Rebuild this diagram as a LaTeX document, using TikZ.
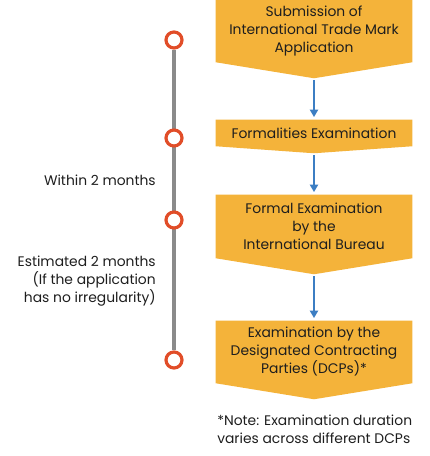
\documentclass[tikz,border=0pt]{standalone}
\usepackage{fontspec}
\setmainfont{Poppins}
\usepackage{tikz}
\usetikzlibrary{calc,arrows.meta,positioning,backgrounds}
\definecolor{gold}{HTML}{F4B33A}
\definecolor{ringc}{HTML}{E14D28}
\definecolor{flowc}{HTML}{3C7EC3}
\definecolor{railc}{HTML}{8A8A8A}
\definecolor{inkc}{HTML}{1E1E1E}
\tikzset{
  stage/.style={minimum width=147pt,inner sep=0pt,align=center,text=inkc,font=\fontsize{10.4}{13.5}\selectfont},
  ar/.style={-{Triangle[length=5.5pt,width=6pt]},line width=1.6pt,flowc,shorten <=1.5pt,shorten >=2pt},
  ring/.style={circle,draw=ringc,line width=2.4pt,fill=white,minimum size=12pt,inner sep=0pt},
  side/.style={text=inkc,align=right,inner sep=0pt,font=\fontsize{10.4}{13.5}\selectfont}
}
% pentagon behind a stage node: name, depth of the point
\newcommand{\chevron}[2]{%
  \fill[gold] (#1.north west)--(#1.north east)--(#1.south east)--($(#1.south)+(0,#2)$)--(#1.south west)--cycle;
  \coordinate (#1tip) at ($(#1.south)+(0,#2)$);}

\begin{document}
\begin{tikzpicture}[x=0.75pt,y=-0.75pt]
\useasboundingbox (0,0) rectangle (429,456);
% stages
\node[stage,minimum height=46.5pt] (sub) at (314,31) {Submission of\\International Trade Mark\\Application};
\node[stage,minimum height=19.5pt] (form) at (314,133) {Formalities Examination};
\node[stage,minimum height=47.25pt] (ib) at (314,226.5) {Formal Examination\\by the\\International Bureau};
\node[stage,minimum height=46.5pt] (dcp) at (314,352) {Examination by the\\Designated Contracting\\Parties (DCPs)*};
\begin{scope}[on background layer]
\chevron{sub}{16} \chevron{form}{7} \chevron{ib}{16} \chevron{dcp}{16}
\end{scope}
\draw[ar] (subtip) -- (form); \draw[ar] (formtip) -- (ib); \draw[ar] (ibtip) -- (dcp);
% timeline
\foreach \y [count=\i] in {40,138,220,360} \node[ring] (r\i) at (174,\y) {};
\begin{scope}[on background layer]
\draw[railc,line width=2.4pt] (r1) -- (r4);
\end{scope}
\node[side,anchor=east] (lap1) at (156,180) {Within 2 months};
\node[side,anchor=east] (lap2) at (156,281) {Estimated 2 months\\(If the application\\has no irregularity)};
\node[side,anchor=west,align=left] (fn) at (217,429) {*Note: Examination duration\\varies across different DCPs};
\end{tikzpicture}
\end{document}
